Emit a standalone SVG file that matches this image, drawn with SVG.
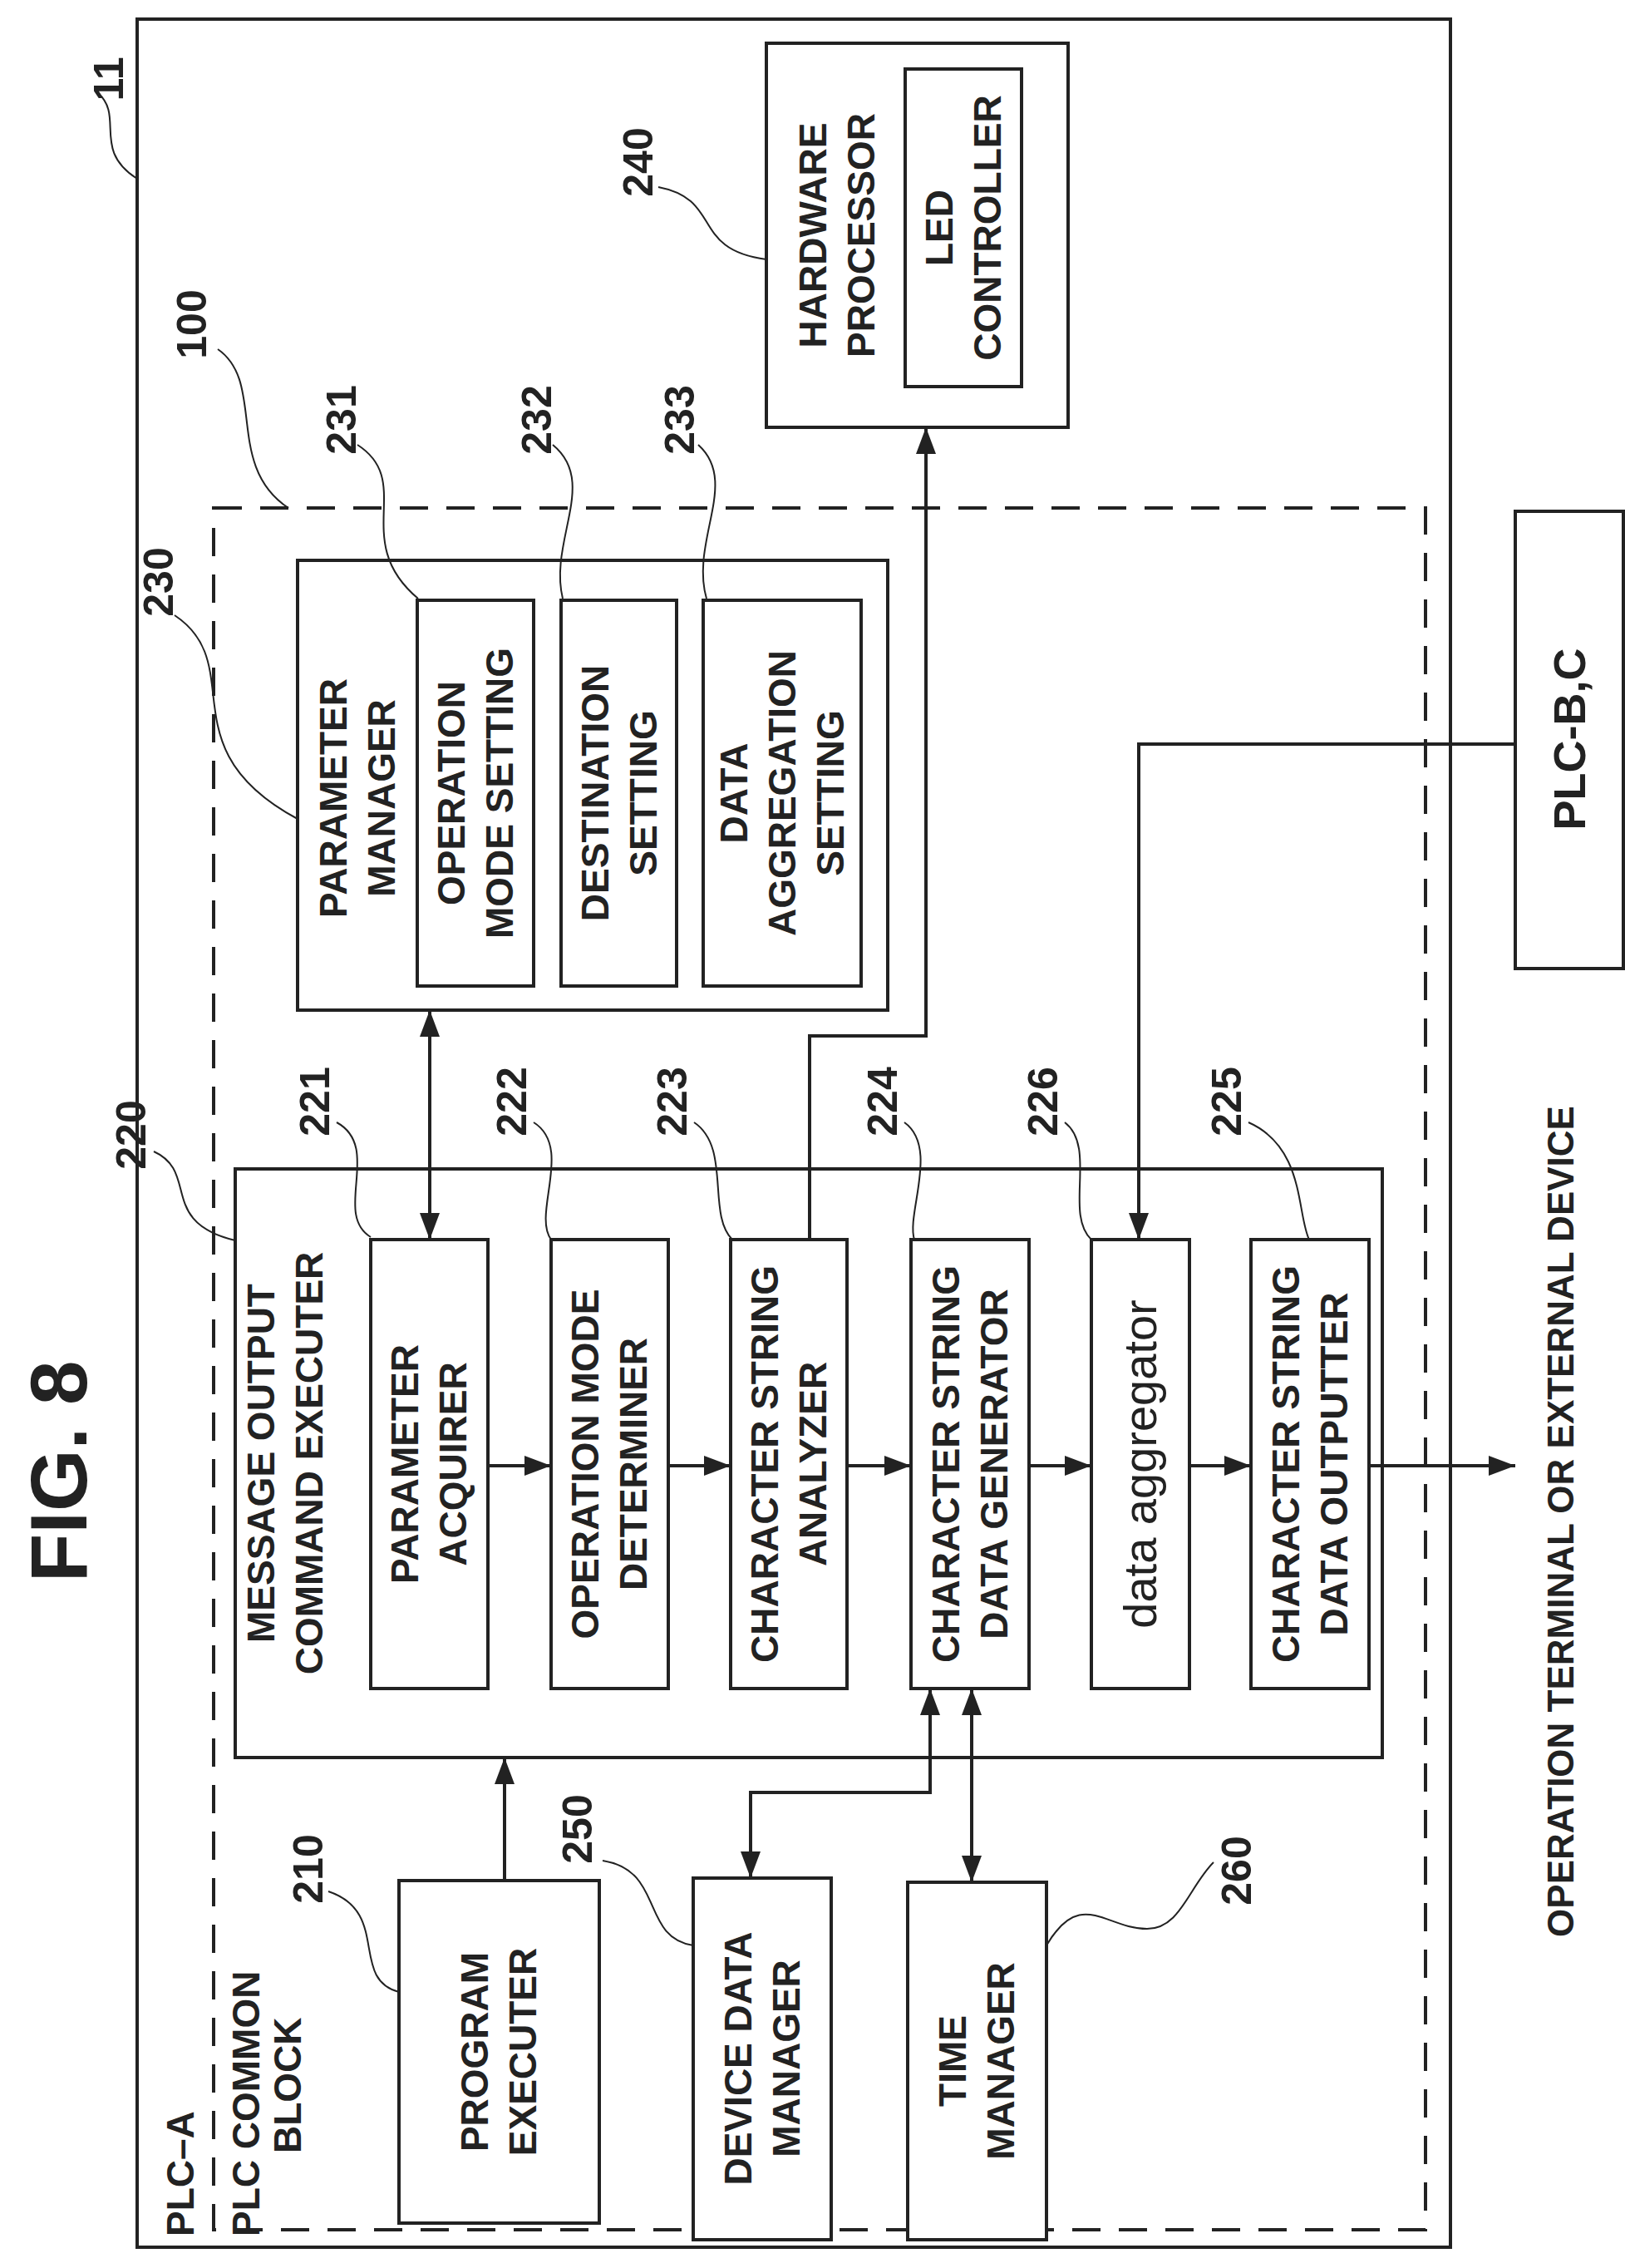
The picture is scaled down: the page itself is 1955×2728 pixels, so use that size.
<svg xmlns="http://www.w3.org/2000/svg" width="1955" height="2728" viewBox="0 0 1955 2728">
<defs>
<marker id="ah" viewBox="0 0 10 10" refX="10" refY="5" markerWidth="32" markerHeight="24" markerUnits="userSpaceOnUse" orient="auto-start-reverse" preserveAspectRatio="none"><path d="M0,0 L10,5 L0,10 z" fill="#222"/></marker>
<style>
.b{fill:#fff;stroke:#222;stroke-width:4}
.d{fill:none;stroke:#222;stroke-width:4;stroke-dasharray:34 22}
.c{fill:none;stroke:#222;stroke-width:4}
.l{fill:none;stroke:#222;stroke-width:2}
text{font-family:"Liberation Sans",Arial,sans-serif;font-weight:bold;fill:#222}
.t{font-size:46px;text-anchor:middle}
.n{font-size:50px;text-anchor:middle}
</style>
</defs>
<rect width="1955" height="2728" fill="#fff"/>
<g id="n11"><rect class="b" x="165" y="23" width="1580" height="2680" fill="none"/></g>
<g id="n100"><rect class="d" x="257" y="611" width="1458" height="2071"/>
<text font-size="46" transform="translate(233,2690) rotate(-90)">PLC–A</text>
<text font-size="46" transform="translate(312,2690) rotate(-90)">PLC COMMON</text>
<text font-size="46" transform="translate(362,2590) rotate(-90)">BLOCK</text></g>
<g id="n240"><rect class="b" x="922" y="52" width="363" height="462"/>
<text class="t" transform="translate(1007,283) rotate(-90)"><tspan x="0" y="-13">HARDWARE</tspan><tspan x="0" y="45">PROCESSOR</tspan></text>
<rect class="b" x="1089" y="83" width="140" height="382"/>
<text class="t" transform="translate(1159,274) rotate(-90)"><tspan x="0" y="-13">LED</tspan><tspan x="0" y="45">CONTROLLER</tspan></text></g>
<g id="n230"><rect class="b" x="358" y="674" width="710" height="541"/>
<text class="t" transform="translate(430,960) rotate(-90)"><tspan x="0" y="-13">PARAMETER</tspan><tspan x="0" y="45">MANAGER</tspan></text>
<rect class="b" x="502" y="722" width="140" height="464"/>
<text class="t" transform="translate(572,954) rotate(-90)"><tspan x="0" y="-13">OPERATION</tspan><tspan x="0" y="45">MODE SETTING</tspan></text>
<rect class="b" x="675" y="722" width="139" height="464"/>
<text class="t" transform="translate(745,954) rotate(-90)"><tspan x="0" y="-13">DESTINATION</tspan><tspan x="0" y="45">SETTING</tspan></text>
<rect class="b" x="846" y="722" width="190" height="464"/>
<text class="t" transform="translate(941,954) rotate(-90)"><tspan x="0" y="-42">DATA</tspan><tspan x="0" y="16">AGGREGATION</tspan><tspan x="0" y="74">SETTING</tspan></text></g>
<g id="plcbc"><rect class="b" x="1823" y="615" width="130" height="550"/>
<text font-size="54" text-anchor="middle" transform="translate(1907,889) rotate(-90)">PLC-B,C</text></g>
<g id="n220"><rect class="b" x="283" y="1406" width="1380" height="708"/>
<text class="t" transform="translate(343,1760) rotate(-90)"><tspan x="0" y="-13">MESSAGE OUTPUT</tspan><tspan x="0" y="45">COMMAND EXECUTER</tspan></text></g>
<g id="n221"><rect class="b" x="446" y="1491" width="141" height="540"/>
<text class="t" transform="translate(516,1761) rotate(-90)"><tspan x="0" y="-13">PARAMETER</tspan><tspan x="0" y="45">ACQUIRER</tspan></text></g>
<g id="n222"><rect class="b" x="663" y="1491" width="141" height="540"/>
<text class="t" transform="translate(733,1761) rotate(-90)"><tspan x="0" y="-13">OPERATION MODE</tspan><tspan x="0" y="45">DETERMINER</tspan></text></g>
<g id="n223"><rect class="b" x="879" y="1491" width="140" height="540"/>
<text class="t" transform="translate(949,1761) rotate(-90)"><tspan x="0" y="-13">CHARACTER STRING</tspan><tspan x="0" y="45">ANALYZER</tspan></text></g>
<g id="n224"><rect class="b" x="1096" y="1491" width="142" height="540"/>
<text class="t" transform="translate(1167,1761) rotate(-90)"><tspan x="0" y="-13">CHARACTER STRING</tspan><tspan x="0" y="45">DATA GENERATOR</tspan></text></g>
<g id="n226"><rect class="b" x="1313" y="1491" width="118" height="540"/>
<text text-anchor="middle" style="font-weight:normal" font-size="56" transform="translate(1372,1761) rotate(-90)"><tspan x="0" y="19">data aggregator</tspan></text></g>
<g id="n225"><rect class="b" x="1505" y="1491" width="142" height="540"/>
<text class="t" transform="translate(1576,1761) rotate(-90)"><tspan x="0" y="-13">CHARACTER STRING</tspan><tspan x="0" y="45">DATA OUTPUTTER</tspan></text></g>
<g id="n210"><rect class="b" x="480" y="2262" width="241" height="412"/>
<text class="t" transform="translate(600,2468) rotate(-90)"><tspan x="0" y="-13">PROGRAM</tspan><tspan x="0" y="45">EXECUTER</tspan></text></g>
<g id="n250"><rect class="b" x="834" y="2259" width="166" height="435"/>
<text class="t" transform="translate(917,2476) rotate(-90)"><tspan x="0" y="-13">DEVICE DATA</tspan><tspan x="0" y="45">MANAGER</tspan></text></g>
<g id="n260"><rect class="b" x="1092" y="2264" width="167" height="430"/>
<text class="t" transform="translate(1175,2479) rotate(-90)"><tspan x="0" y="-13">TIME</tspan><tspan x="0" y="45">MANAGER</tspan></text></g>
<g id="connectors">
<path class="c" d="M517,1215 L517,1491" marker-start="url(#ah)" marker-end="url(#ah)"/>
<path class="c" d="M974,1491 L974,1246 L1114,1246 L1114,514" marker-end="url(#ah)"/>
<path class="c" d="M1823,895 L1370,895 L1370,1491" marker-end="url(#ah)"/>
<path class="c" d="M587,1763 L663,1763" marker-end="url(#ah)"/>
<path class="c" d="M804,1763 L879,1763" marker-end="url(#ah)"/>
<path class="c" d="M1019,1763 L1096,1763" marker-end="url(#ah)"/>
<path class="c" d="M1238,1763 L1313,1763" marker-end="url(#ah)"/>
<path class="c" d="M1431,1763 L1505,1763" marker-end="url(#ah)"/>
<path class="c" d="M1647,1763 L1823,1763" marker-end="url(#ah)"/>
<path class="c" d="M607,2262 L607,2114" marker-end="url(#ah)"/>
<path class="c" d="M1119,2031 L1119,2156 L903,2156 L903,2259" marker-start="url(#ah)" marker-end="url(#ah)"/>
<path class="c" d="M1169,2031 L1169,2264" marker-start="url(#ah)" marker-end="url(#ah)"/>
</g>
<g id="labels">
<text font-size="96" text-anchor="middle" transform="translate(104,1770) rotate(-90)">FIG. 8</text>
<text font-size="44" text-anchor="middle" transform="translate(1893,1830) rotate(-90)">OPERATION TERMINAL OR EXTERNAL DEVICE</text>
<text class="n" transform="translate(148,95) rotate(-90)">11</text>
<path class="l" d="M118,112 C150,140 110,180 165,215"/>
<text class="n" transform="translate(248,390) rotate(-90)">100</text>
<path class="l" d="M262,420 C320,460 270,560 347,611"/>
<text class="n" transform="translate(208,700) rotate(-90)">230</text>
<path class="l" d="M210,740 C300,800 200,900 358,985"/>
<text class="n" transform="translate(428,505) rotate(-90)">231</text>
<path class="l" d="M430,535 C500,580 420,650 503,720"/>
<text class="n" transform="translate(663,505) rotate(-90)">232</text>
<path class="l" d="M665,535 C720,580 660,650 677,720"/>
<text class="n" transform="translate(835,505) rotate(-90)">233</text>
<path class="l" d="M840,535 C890,580 830,650 850,720"/>
<text class="n" transform="translate(785,195) rotate(-90)">240</text>
<path class="l" d="M792,225 C870,240 830,300 922,312"/>
<text class="n" transform="translate(175,1365) rotate(-90)">220</text>
<path class="l" d="M185,1385 C240,1410 190,1470 283,1492"/>
<text class="n" transform="translate(396,1325) rotate(-90)">221</text>
<path class="l" d="M405,1350 C460,1380 400,1460 446,1488"/>
<text class="n" transform="translate(633,1325) rotate(-90)">222</text>
<path class="l" d="M642,1350 C690,1380 640,1460 663,1491"/>
<text class="n" transform="translate(826,1325) rotate(-90)">223</text>
<path class="l" d="M835,1350 C880,1380 850,1460 881,1491"/>
<text class="n" transform="translate(1079,1325) rotate(-90)">224</text>
<path class="l" d="M1088,1350 C1130,1380 1090,1460 1100,1491"/>
<text class="n" transform="translate(1272,1325) rotate(-90)">226</text>
<path class="l" d="M1281,1350 C1320,1380 1280,1460 1313,1491"/>
<text class="n" transform="translate(1493,1325) rotate(-90)">225</text>
<path class="l" d="M1502,1350 C1570,1380 1560,1460 1575,1491"/>
<text class="n" transform="translate(388,2248) rotate(-90)">210</text>
<path class="l" d="M395,2275 C470,2300 420,2380 480,2396"/>
<text class="n" transform="translate(712,2200) rotate(-90)">250</text>
<path class="l" d="M725,2238 C800,2250 770,2330 834,2340"/>
<text class="n" transform="translate(1505,2250) rotate(-90)">260</text>
<path class="l" d="M1259,2340 C1300,2270 1330,2320 1380,2320 C1420,2320 1430,2270 1460,2240"/>
</g>
</svg>
